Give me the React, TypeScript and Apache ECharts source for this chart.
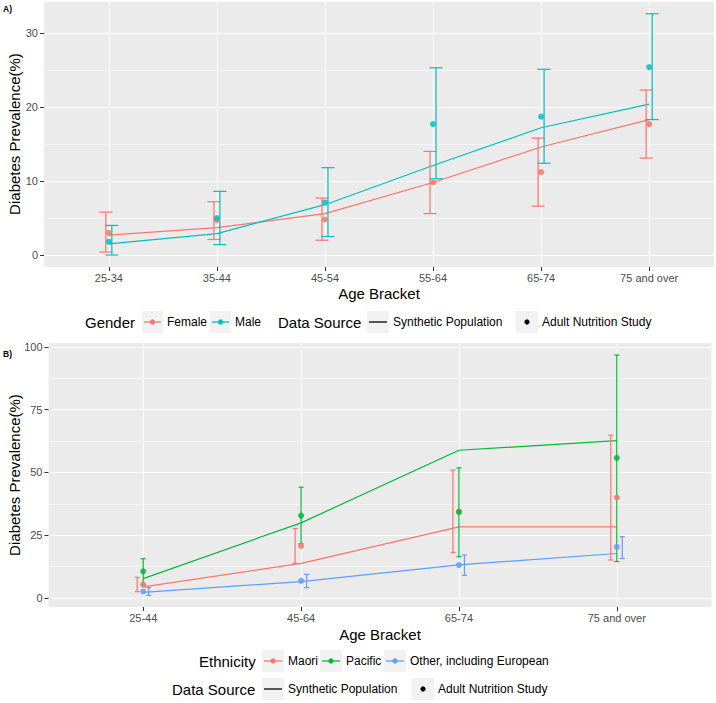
import React, { useEffect, useRef } from "react";
import * as echarts from "echarts";

// ---------- Panel A data ----------
const ageA = ["25-34", "35-44", "45-54", "55-64", "65-74", "75 and over"];
const femaleSynth = [2.7, 3.7, 5.6, 9.8, 14.6, 18.3];
const maleSynth = [1.5, 2.9, 6.8, 12.1, 17.2, 20.4];
const femaleSurvey = [3.0, 4.7, 4.8, 9.8, 11.2, 17.7];
const maleSurvey = [1.8, 5.0, 7.1, 17.7, 18.7, 25.4];
const femaleLow = [0.4, 2.1, 2.0, 5.6, 6.6, 13.1];
const femaleHigh = [5.8, 7.2, 7.7, 14.0, 15.8, 22.3];
const maleLow = [0.0, 1.4, 2.5, 10.3, 12.4, 18.3];
const maleHigh = [4.0, 8.6, 11.8, 25.3, 25.1, 32.6];
const ticksA = [0, 10, 20, 30];
const minorA = [5, 15, 25];

// ---------- Panel B data ----------
const ageB = ["25-44", "45-64", "65-74", "75 and over"];
const maoriSynth = [4.4, 13.8, 28.3, 28.3];
const pacificSynth = [7.7, 29.9, 58.8, 62.6];
const otherSynth = [2.2, 6.5, 13.2, 17.7];
const maoriSurvey = [5.3, 20.7, 34.5, 40.0];
const pacificSurvey = [10.6, 32.8, 34.2, 55.8];
const otherSurvey = [2.6, 6.8, 13.1, 20.3];
const maoriLow = [2.5, 13.8, 18.1, 15.1];
const maoriHigh = [8.2, 27.7, 50.9, 64.8];
const pacificLow = [5.3, 21.6, 16.4, 14.5];
const pacificHigh = [15.6, 44.1, 51.8, 96.7];
const otherLow = [1.0, 4.1, 9.0, 15.7];
const otherHigh = [4.1, 9.4, 17.1, 24.4];
const ticksB = [0, 25, 50, 75, 100];
const minorB = [12.5, 37.5, 62.5, 87.5];

const RED = "#F8766D";
const CYAN = "#00BFC4";
const GREEN = "#00BA38";
const BLUE = "#619CFF";
const FONT = "Liberation Sans, Arial, sans-serif";

const pairs = (arr: number[]) => arr.map((v, i) => [i, v]);
const triples = (lo: number[], hi: number[]) => lo.map((v, i) => [i, v, hi[i]]);

function errRender(offset: number, cap: number, color: string) {
  return (params: any, api: any) => {
    const x = api.value(0);
    const pLo = api.coord([x, api.value(1)]);
    const pHi = api.coord([x, api.value(2)]);
    const cx = pLo[0] + offset;
    const style = { stroke: color, lineWidth: 1.2, fill: "none" };
    return {
      type: "group",
      children: [
        { type: "line", shape: { x1: cx, y1: pHi[1], x2: cx, y2: pLo[1] }, style },
        { type: "line", shape: { x1: cx - cap, y1: pHi[1], x2: cx + cap, y2: pHi[1] }, style },
        { type: "line", shape: { x1: cx - cap, y1: pLo[1], x2: cx + cap, y2: pLo[1] }, style },
      ],
    };
  };
}

function lineSeries(name: string, data: number[], color: string, xi: number, yi: number) {
  return {
    name, type: "line", xAxisIndex: xi, yAxisIndex: yi, data: pairs(data),
    symbol: "none", lineStyle: { color, width: 1.2 }, z: 2, silent: true,
  };
}
function pointSeries(name: string, data: number[], color: string, xi: number, yi: number) {
  return {
    name, type: "scatter", xAxisIndex: xi, yAxisIndex: yi, data: pairs(data),
    symbolSize: 6, itemStyle: { color, opacity: 0.85 }, z: 4, silent: true,
  };
}
function errSeries(name: string, lo: number[], hi: number[], color: string, xi: number, yi: number, off: number, cap: number) {
  return {
    name, type: "custom", xAxisIndex: xi, yAxisIndex: yi, data: triples(lo, hi),
    encode: { x: 0, y: [1, 2] }, renderItem: errRender(off, cap, color), z: 3, clip: false, silent: true,
  };
}

function xAxis(grid: number, cats: string[]) {
  const idx = cats.map((_, i) => i);
  return {
    type: "value", gridIndex: grid, min: -0.6, max: cats.length - 0.4, position: "bottom",
    axisLine: { show: false, onZero: false },
    axisTick: { show: true, length: 4, customValues: idx, lineStyle: { color: "#333333", width: 1 } },
    axisLabel: {
      customValues: idx, formatter: (v: number) => cats[Math.round(v)] ?? "",
      color: "#4D4D4D", fontSize: 11, fontFamily: FONT, margin: 5,
    },
    splitLine: { show: true, lineStyle: { color: "#FFFFFF", width: 1.1 } },
  };
}
function yMajor(grid: number, min: number, max: number, ticks: number[]) {
  return {
    type: "value", gridIndex: grid, min, max, position: "left",
    axisLine: { show: false, onZero: false },
    axisTick: { show: true, length: 4, customValues: ticks, lineStyle: { color: "#333333", width: 1 } },
    axisLabel: { customValues: ticks, color: "#4D4D4D", fontSize: 11, fontFamily: FONT, margin: 6 },
    splitLine: { show: true, lineStyle: { color: "#FFFFFF", width: 1.1 } },
  };
}
function yMinor(grid: number, min: number, max: number, ticks: number[]) {
  return {
    type: "value", gridIndex: grid, min, max, position: "left",
    axisLine: { show: false, onZero: false },
    axisTick: { show: false, customValues: ticks },
    axisLabel: { show: false, customValues: ticks },
    splitLine: { show: true, lineStyle: { color: "#FFFFFF", width: 0.55 } },
  };
}

function text(x: number, y: number, s: string, size: number, opts: any = {}) {
  return {
    type: "text", x, y, silent: true,
    style: {
      text: s, fontSize: size, fontFamily: FONT, fill: opts.fill ?? "#000000",
      fontWeight: opts.bold ? "bold" : "normal",
      align: opts.align ?? "left", verticalAlign: "middle",
    },
    rotation: opts.rotation ?? 0,
  };
}
function keyBox(x: number, y: number, w: number, h: number, kind: "both" | "line" | "dot", color: string) {
  const cx = x + w / 2;
  const children: any[] = [
    { type: "rect", shape: { x, y: y - h / 2, width: w, height: h }, style: { fill: "#F2F2F2" }, silent: true },
  ];
  if (kind !== "dot") {
    children.push({ type: "line", shape: { x1: x + 2, y1: y, x2: x + w - 2, y2: y }, style: { stroke: color, lineWidth: 1.3 }, silent: true });
  }
  if (kind !== "line") {
    children.push({ type: "circle", shape: { cx, cy: y, r: 2.6 }, style: { fill: color }, silent: true });
  }
  return children;
}

export default function App() {
  const ref = useRef<HTMLDivElement>(null);
  useEffect(() => {
    if (!ref.current) return;
    const chart = echarts.init(ref.current, undefined, { renderer: "svg" });

    const legA = 322;
    const legB1 = 661;
    const legB2 = 689;
    const graphics: any[] = [
      text(3, 9, "A)", 8.5, { bold: true }),
      text(3, 354, "B)", 8.5, { bold: true }),
      text(14, 134, "Diabetes Prevalence(%)", 15, { align: "center", rotation: Math.PI / 2 }),
      text(14, 475, "Diabetes Prevalence(%)", 15, { align: "center", rotation: Math.PI / 2 }),
      text(379, 293, "Age Bracket", 15, { align: "center" }),
      text(380, 634, "Age Bracket", 15, { align: "center" }),
      // Legend A
      text(85, legA, "Gender", 15),
      ...keyBox(142, legA, 21, 22, "both", RED),
      text(167, legA, "Female", 12),
      ...keyBox(210, legA, 21, 22, "both", CYAN),
      text(235, legA, "Male", 12),
      text(278, legA, "Data Source", 15),
      ...keyBox(367, legA, 22, 22, "line", "#000000"),
      text(393, legA, "Synthetic Population", 12),
      ...keyBox(516, legA, 22, 22, "dot", "#000000"),
      text(542, legA, "Adult Nutrition Study", 12),
      // Legend B row 1
      text(199, legB1, "Ethnicity", 15),
      ...keyBox(262, legB1, 22, 22, "both", RED),
      text(288, legB1, "Maori", 12),
      ...keyBox(320, legB1, 22, 22, "both", GREEN),
      text(346, legB1, "Pacific", 12),
      ...keyBox(384, legB1, 22, 22, "both", BLUE),
      text(410, legB1, "Other, including European", 12),
      // Legend B row 2
      text(172, legB2, "Data Source", 15),
      ...keyBox(262, legB2, 22, 22, "line", "#000000"),
      text(288, legB2, "Synthetic Population", 12),
      ...keyBox(412, legB2, 22, 22, "dot", "#000000"),
      text(438, legB2, "Adult Nutrition Study", 12),
    ];

    chart.setOption({
      animation: false,
      backgroundColor: "#FFFFFF",
      textStyle: { fontFamily: FONT },
      grid: [
        { left: 44, top: 2, width: 670, height: 265, show: true, backgroundColor: "#EBEBEB", borderWidth: 0 },
        { left: 48.5, top: 343, width: 663, height: 264, show: true, backgroundColor: "#EBEBEB", borderWidth: 0 },
      ],
      xAxis: [xAxis(0, ageA), xAxis(1, ageB)],
      yAxis: [
        yMajor(0, -1.62, 34.19, ticksA),
        yMinor(0, -1.62, 34.19, minorA),
        yMajor(1, -3.6, 101.5, ticksB),
        yMinor(1, -3.6, 101.5, minorB),
      ],
      series: [
        lineSeries("Female synthetic", femaleSynth, RED, 0, 0),
        lineSeries("Male synthetic", maleSynth, CYAN, 0, 0),
        errSeries("Female CI", femaleLow, femaleHigh, RED, 0, 0, -3, 6.5),
        errSeries("Male CI", maleLow, maleHigh, CYAN, 0, 0, 3, 6.5),
        pointSeries("Female survey", femaleSurvey, RED, 0, 0),
        pointSeries("Male survey", maleSurvey, CYAN, 0, 0),

        lineSeries("Maori synthetic", maoriSynth, RED, 1, 2),
        lineSeries("Pacific synthetic", pacificSynth, GREEN, 1, 2),
        lineSeries("Other synthetic", otherSynth, BLUE, 1, 2),
        errSeries("Maori CI", maoriLow, maoriHigh, RED, 1, 2, -6, 2.5),
        errSeries("Pacific CI", pacificLow, pacificHigh, GREEN, 1, 2, 0, 2.5),
        errSeries("Other CI", otherLow, otherHigh, BLUE, 1, 2, 5.5, 2.5),
        pointSeries("Maori survey", maoriSurvey, RED, 1, 2),
        pointSeries("Pacific survey", pacificSurvey, GREEN, 1, 2),
        pointSeries("Other survey", otherSurvey, BLUE, 1, 2),
      ],
      graphic: graphics,
    });
    return () => chart.dispose();
  }, []);
  return (
    <div
      ref={ref}
      style={{ position: "absolute", left: 0, top: 0, width: 716, height: 703, background: "#FFFFFF" }}
    />
  );
}
